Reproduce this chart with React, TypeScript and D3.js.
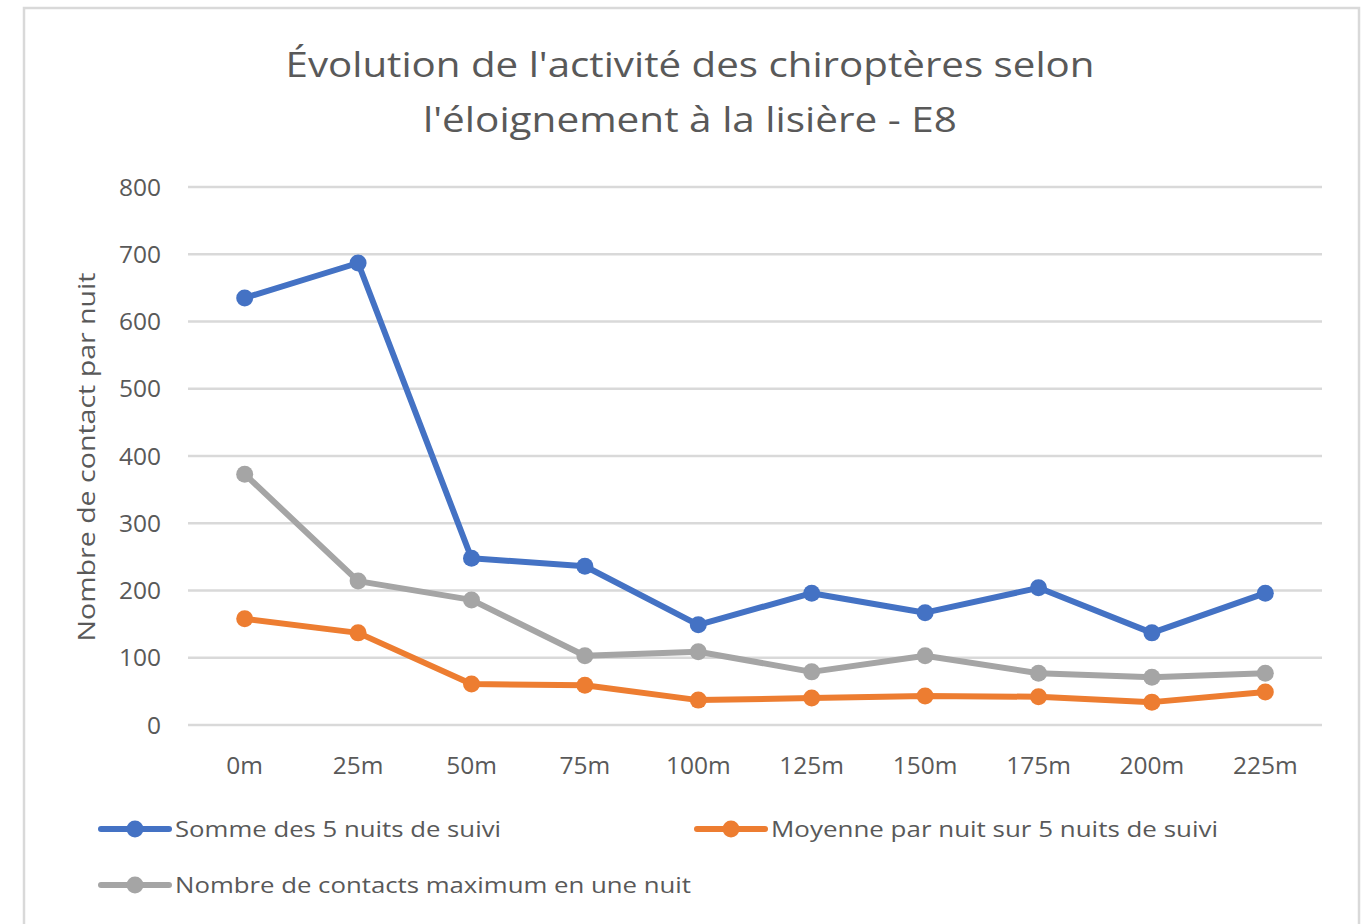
import React from "react";
import * as d3 from "d3";

const distances = ["0m", "25m", "50m", "75m", "100m", "125m", "150m", "175m", "200m", "225m"];
const sommeValues = [635, 687, 248, 236, 149, 196, 167, 204, 137, 196];
const moyenneValues = [158, 137, 61, 59, 37, 40, 43, 42, 34, 49];
const maxValues = [373, 214, 186, 103, 109, 79, 103, 77, 71, 77];
const yTicks = [0, 100, 200, 300, 400, 500, 600, 700, 800];

const seriesNames = [
  "Somme des 5 nuits de suivi",
  "Moyenne par nuit sur 5 nuits de suivi",
  "Nombre de contacts maximum en une nuit",
];
const seriesColors = ["#4472c4", "#ed7d31", "#a5a5a5"];

const W = 1363;
const H = 924;
const FONT = "'Open Sans', sans-serif";
const TEXT = "#595959";

export default function App() {
  const plotLeft = 188;
  const plotRight = 1322;
  const plotTop = 187;
  const plotBottom = 725;

  const x = d3.scalePoint<string>().domain(distances).range([plotLeft, plotRight]).padding(0.5);
  const y = d3.scaleLinear().domain([0, 800]).range([plotBottom, plotTop]);

  const line = d3
    .line<number>()
    .x((_, i) => x(distances[i]) as number)
    .y((d) => y(d));

  const drawOrder = [
    { values: maxValues, color: seriesColors[2] },
    { values: moyenneValues, color: seriesColors[1] },
    { values: sommeValues, color: seriesColors[0] },
  ];

  const legend = [
    { name: seriesNames[0], color: seriesColors[0], x: 101, y: 829, len: 326 },
    { name: seriesNames[1], color: seriesColors[1], x: 697, y: 829, len: 447 },
    { name: seriesNames[2], color: seriesColors[2], x: 101, y: 885, len: 516 },
  ];

  return (
    <svg width={W} height={H} style={{ position: "absolute", left: 0, top: 0, background: "#fff" }} fontFamily={FONT}>
      <rect x={0} y={0} width={W} height={H} fill="#fff" />
      <rect x={24} y={8} width={1335} height={930} fill="#fff" stroke="#d9d9d9" strokeWidth={2.5} />

      <text x={690} y={77} textAnchor="middle" fontSize={35} fill={TEXT} textLength={809} lengthAdjust="spacingAndGlyphs">
        Évolution de l'activité des chiroptères selon
      </text>
      <text x={690} y={132} textAnchor="middle" fontSize={35} fill={TEXT} textLength={534} lengthAdjust="spacingAndGlyphs">
        l'éloignement à la lisière - E8
      </text>

      {yTicks.map((t) => (
        <g key={t}>
          <line x1={plotLeft} x2={plotRight} y1={y(t)} y2={y(t)} stroke="#d9d9d9" strokeWidth={2.5} />
          <text x={161} y={y(t)} dy="0.35em" textAnchor="end" fontSize={24.5} fill={TEXT}>
            {t}
          </text>
        </g>
      ))}

      {distances.map((d) => (
        <text key={d} x={x(d)} y={765} dy="0.35em" textAnchor="middle" fontSize={24.5} fill={TEXT}>
          {d}
        </text>
      ))}

      <text
        transform={`translate(87, ${(plotTop + plotBottom) / 2 + 1}) rotate(-90)`}
        textAnchor="middle"
        dy="0.35em"
        fontSize={23}
        fill={TEXT}
        textLength={369}
        lengthAdjust="spacingAndGlyphs"
      >
        Nombre de contact par nuit
      </text>

      {drawOrder.map((s, si) => (
        <g key={si}>
          <path d={line(s.values) ?? ""} fill="none" stroke={s.color} strokeWidth={6} strokeLinejoin="round" strokeLinecap="round" />
          {s.values.map((v, i) => (
            <circle key={i} cx={x(distances[i]) as number} cy={y(v)} r={8.5} fill={s.color} />
          ))}
        </g>
      ))}

      {legend.map((l) => (
        <g key={l.name}>
          <line x1={l.x} x2={l.x + 68} y1={l.y} y2={l.y} stroke={l.color} strokeWidth={6} strokeLinecap="round" />
          <circle cx={l.x + 34} cy={l.y} r={8.5} fill={l.color} />
          <text x={l.x + 74} y={l.y} dy="0.35em" fontSize={22} fill={TEXT} textLength={l.len} lengthAdjust="spacingAndGlyphs">
            {l.name}
          </text>
        </g>
      ))}
    </svg>
  );
}
